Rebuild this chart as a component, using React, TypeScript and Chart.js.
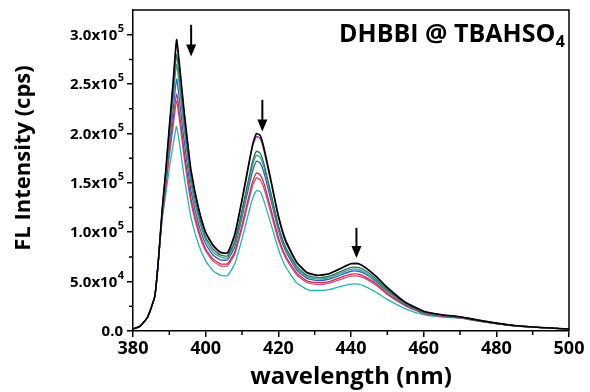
import React, { useEffect, useRef } from 'react';
import { Chart, registerables } from 'chart.js';
Chart.register(...registerables);

const SCALE = 1e5;
const wavelengths = [380,382,384,386,387,388,389,390,391,392,393,394,395,396,398,400,402,404,406,408,410,412,413,414,415,416,418,420,422,425,428,431,434,437,440,442,444,447,450,455,460,465,470,475,480,485,490,495,500];

const sBlack = [0.02,0.05,0.14,0.35,0.72, 1.22,1.62,2.07,2.5,2.95,2.62,2.25,1.92,1.62, 1.25,1.0,0.87,0.80,0.79, 0.98,1.33,1.72, 1.9,2.0,1.98,1.86, 1.52,1.17,0.92,0.70,0.59,0.565,0.58,0.63,0.68,0.68,0.64,0.55,0.44, 0.29,0.20,0.165,0.145,0.11,0.08,0.055,0.04,0.03,0.02];
const sPurple = [0.02,0.05,0.14,0.35,0.72, 1.21,1.61,2.05,2.47,2.92,2.59,2.23,1.90,1.60, 1.24,0.99,0.86,0.79,0.79, 0.96,1.31,1.70, 1.88,1.97,1.95,1.83, 1.50,1.15,0.90,0.69,0.585,0.56,0.58,0.63,0.685,0.685,0.645,0.55,0.44, 0.29,0.20,0.165,0.145,0.11,0.08,0.055,0.04,0.03,0.02];
const sDarkGreen = [0.02,0.05,0.14,0.35,0.72, 1.20,1.58,2.0,2.4,2.80,2.49,2.14,1.83,1.54, 1.19,0.95,0.83,0.77,0.76, 0.91,1.22,1.57, 1.73,1.82,1.80,1.70, 1.39,1.07,0.85,0.66,0.56,0.54,0.555,0.60,0.645,0.645,0.61,0.525,0.42, 0.28,0.19,0.16,0.14,0.105,0.078,0.054,0.04,0.03,0.02];
const sSeaGreen = [0.02,0.05,0.14,0.35,0.72, 1.19,1.55,1.95,2.33,2.70,2.40,2.06,1.76,1.48, 1.15,0.92,0.80,0.75,0.74, 0.88,1.19,1.53, 1.69,1.78,1.76,1.66, 1.36,1.05,0.83,0.64,0.545,0.525,0.54,0.585,0.625,0.625,0.59,0.51,0.41, 0.275,0.19,0.158,0.14,0.105,0.077,0.053,0.04,0.03,0.02];
const sBlue = [0.02,0.05,0.14,0.35,0.72, 1.18,1.52,1.90,2.22,2.55,2.27,1.95,1.67,1.41, 1.09,0.88,0.77,0.72,0.72, 0.85,1.15,1.48, 1.63,1.72,1.70,1.61, 1.32,1.02,0.81,0.62,0.53,0.51,0.525,0.565,0.605,0.605,0.575,0.495,0.40, 0.27,0.185,0.155,0.138,0.104,0.076,0.053,0.04,0.03,0.02];
const sRed = [0.02,0.05,0.14,0.35,0.72, 1.16,1.47,1.82,2.12,2.40,2.14,1.84,1.57,1.33, 1.03,0.83,0.73,0.68,0.68, 0.80,1.07,1.38, 1.52,1.60,1.58,1.50, 1.23,0.95,0.76,0.59,0.505,0.49,0.50,0.54,0.575,0.575,0.545,0.475,0.38, 0.26,0.18,0.15,0.135,0.102,0.075,0.052,0.04,0.03,0.02];
const sPink = [0.02,0.05,0.14,0.35,0.72, 1.15,1.45,1.78,2.06,2.33,2.08,1.78,1.52,1.29, 1.0,0.81,0.71,0.66,0.66, 0.78,1.04,1.34, 1.48,1.55,1.53,1.45, 1.19,0.92,0.74,0.57,0.49,0.47,0.485,0.52,0.555,0.555,0.53,0.46,0.37, 0.255,0.178,0.148,0.133,0.10,0.074,0.052,0.04,0.03,0.02];
const sTeal = [0.02,0.05,0.14,0.35,0.72, 1.12,1.38,1.65,1.88,2.07,1.85,1.58,1.35,1.14, 0.88,0.71,0.61,0.565,0.56, 0.68,0.93,1.22, 1.35,1.42,1.41,1.32, 1.08,0.83,0.65,0.49,0.42,0.41,0.42,0.45,0.475,0.475,0.45,0.39,0.32, 0.225,0.165,0.14,0.13,0.10,0.075,0.055,0.04,0.03,0.02];

const seriesList = [sBlack, sPurple, sDarkGreen, sSeaGreen, sBlue, sRed, sPink, sTeal];
const seriesColors = ['#000000', '#9a2fb8', '#1f7a4a', '#3aa688', '#2a5bd7', '#d8283c', '#d04a8c', '#1fb5b5'];

const yTickValues = [0, 0.5, 1.0, 1.5, 2.0, 2.5, 3.0];
const yTickMantissa = ['0.0', '5.0x10', '1.0x10', '1.5x10', '2.0x10', '2.5x10', '3.0x10'];
const yTickExp = ['', '4', '5', '5', '5', '5', '5'];
const yMinorValues = [0.25, 0.75, 1.25, 1.75, 2.25, 2.75];
const xMinorValues = [390, 410, 430, 450, 470, 490];

// arrows: wavelength, fromY, toY (units of 1e5)
const arrowX = [396, 415.6, 441.5];
const arrowFrom = [3.1, 2.34, 1.045];
const arrowTo = [2.78, 2.02, 0.74];

const FONT = "'Open Sans', 'DejaVu Sans', sans-serif";

const decorPlugin = {
  id: 'decor',
  afterDraw(chart: any) {
    const { ctx, chartArea } = chart;
    const xs = chart.scales.x;
    const ys = chart.scales.y;
    ctx.save();
    ctx.strokeStyle = '#000';
    ctx.lineWidth = 1.5;
    ctx.beginPath();
    ctx.moveTo(chartArea.left, chartArea.top);
    ctx.lineTo(chartArea.right, chartArea.top);
    ctx.lineTo(chartArea.right, chartArea.bottom);
    ctx.stroke();
    ctx.beginPath();
    xMinorValues.forEach((v) => {
      const px = xs.getPixelForValue(v);
      ctx.moveTo(px, chartArea.bottom);
      ctx.lineTo(px, chartArea.bottom + 4);
    });
    yMinorValues.forEach((v) => {
      const py = ys.getPixelForValue(v * SCALE);
      ctx.moveTo(chartArea.left, py);
      ctx.lineTo(chartArea.left - 4, py);
    });
    ctx.stroke();
    ctx.fillStyle = '#000';
    ctx.textBaseline = 'middle';
    yTickValues.forEach((v, i) => {
      const py = ys.getPixelForValue(v * SCALE);
      let x = chartArea.left - 9;
      if (yTickExp[i]) {
        ctx.font = `bold 11px ${FONT}`;
        ctx.textAlign = 'right';
        ctx.fillText(yTickExp[i], x, py - 6);
        x -= ctx.measureText(yTickExp[i]).width + 0.5;
      } else {
        x -= 1;
      }
      ctx.font = `bold 15px ${FONT}`;
      ctx.textAlign = 'right';
      ctx.fillText(yTickMantissa[i], x, py + 1);
    });
    ctx.save();
    ctx.translate(24, 158);
    ctx.rotate(-Math.PI / 2);
    ctx.font = `bold 22px ${FONT}`;
    ctx.textAlign = 'center';
    ctx.textBaseline = 'middle';
    ctx.fillText('FL Intensity (cps)', 0, 0);
    ctx.restore();
    ctx.textBaseline = 'alphabetic';
    ctx.textAlign = 'right';
    ctx.font = `bold 16px ${FONT}`;
    const subW = ctx.measureText('4').width;
    const rightEdge = chartArea.right - 4;
    ctx.fillText('4', rightEdge, 47);
    ctx.font = `bold 25px ${FONT}`;
    ctx.fillText('DHBBI @ TBAHSO', rightEdge - subW - 0.5, 42);
    ctx.strokeStyle = '#000';
    ctx.fillStyle = '#000';
    ctx.lineWidth = 2;
    arrowX.forEach((w, i) => {
      const px = xs.getPixelForValue(w);
      const y1 = ys.getPixelForValue(arrowFrom[i] * SCALE);
      const y2 = ys.getPixelForValue(arrowTo[i] * SCALE);
      ctx.beginPath();
      ctx.moveTo(px, y1);
      ctx.lineTo(px, y2 - 10);
      ctx.stroke();
      ctx.beginPath();
      ctx.moveTo(px - 5, y2 - 12);
      ctx.lineTo(px + 5, y2 - 12);
      ctx.lineTo(px, y2);
      ctx.closePath();
      ctx.fill();
    });
    ctx.restore();
  },
};

export default function App() {
  const ref = useRef<HTMLCanvasElement | null>(null);
  useEffect(() => {
    if (!ref.current) return;
    const datasets = seriesList.map((s, i) => ({
      label: `s${i}`,
      data: wavelengths.map((w, j) => ({ x: w, y: s[j] * SCALE })),
      borderColor: seriesColors[i],
      borderWidth: i === 0 ? 1.6 : 1.3,
      pointRadius: 0,
      fill: false,
      tension: 0.15,
    }));
    const chart = new Chart(ref.current, {
      type: 'line',
      data: { datasets },
      options: {
        responsive: false,
        animation: false,
        layout: { padding: { top: 10, right: 21, left: 0, bottom: 0 } },
        plugins: { legend: { display: false }, tooltip: { enabled: false } },
        scales: {
          x: {
            type: 'linear',
            min: 380,
            max: 500,
            afterFit: (s: any) => { s.height = 61; },
            ticks: { stepSize: 20, color: '#000', font: { family: FONT, size: 18, weight: 'bold' }, padding: 1, maxRotation: 0 },
            grid: { drawOnChartArea: false, drawTicks: true, tickLength: 6, color: '#000', lineWidth: 1.5 },
            border: { display: true, color: '#000', width: 1.5 },
            title: { display: true, text: 'wavelength (nm)', color: '#000', font: { family: FONT, size: 24, weight: 'bold' }, padding: { top: 0, bottom: 0 } },
          },
          y: {
            type: 'linear',
            min: 0,
            max: 3.25 * SCALE,
            afterFit: (s: any) => { s.width = 133; },
            afterBuildTicks: (s: any) => { s.ticks = yTickValues.map((v) => ({ value: v * SCALE })); },
            ticks: { display: false },
            grid: { drawOnChartArea: false, drawTicks: true, tickLength: 6, color: '#000', lineWidth: 1.5 },
            border: { display: true, color: '#000', width: 1.5 },
          },
        },
      },
      plugins: [decorPlugin],
    });
    return () => chart.destroy();
  }, []);
  return (
    <div style={{ position: 'absolute', left: 0, top: 0, width: 590, height: 392, background: '#fff' }}>
      <canvas ref={ref} width={590} height={392} style={{ display: 'block' }} />
    </div>
  );
}
